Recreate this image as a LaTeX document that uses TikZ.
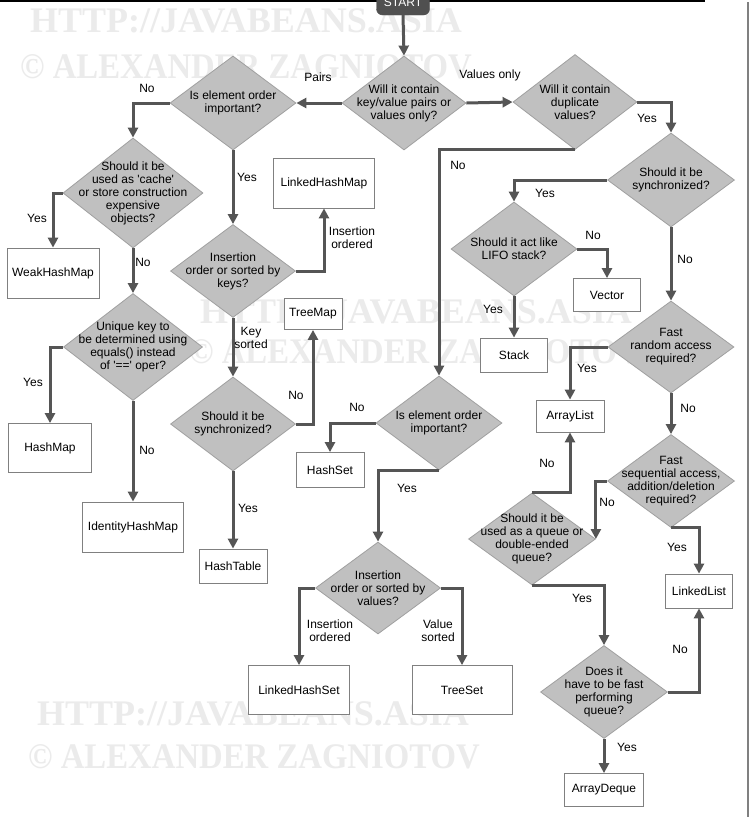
\documentclass[tikz,border=0pt]{standalone}
\usepackage{fontspec}
\newfontfamily\lsans{Liberation Sans}
\newfontfamily\wmfont{Liberation Serif}
\usetikzlibrary{arrows.meta,shapes.geometric}
\definecolor{dfill}{HTML}{C0C0C0}
\definecolor{dline}{HTML}{A0A0A0}
\definecolor{conn}{HTML}{555555}
\definecolor{bline}{HTML}{808080}
\definecolor{wmcol}{HTML}{EBEBEB}
\definecolor{startfill}{HTML}{505050}
\tikzset{
  txtfont/.style={font=\lsans\fontsize{12}{13}\selectfont},
  dia/.style={diamond, draw=dline, fill=dfill, line width=0.8pt, inner sep=0pt},
  dtext/.style={txtfont, align=center, inner sep=0pt},
  box/.style={draw=bline, fill=white, line width=0.8pt, txtfont, inner sep=0pt},
  con/.style={draw=conn, line width=3pt, -{Triangle[width=10pt,length=10pt]}},
  lbl/.style={txtfont, align=center, inner sep=0pt},
  wmark/.style={font=\wmfont\bfseries\fontsize{36}{36}\selectfont, text=wmcol, inner sep=0pt},
  startbox/.style={rounded corners=6pt, fill=startfill, draw=startfill, text=white, txtfont, inner sep=0pt, minimum width=53pt, minimum height=26pt}
}
\newcommand{\dnode}[6]{%
  \node[dia, minimum width=#4pt, minimum height=#5pt] (#1) at (#2,#3) {};
  \node[dtext] (#1t) at (#1.center) {#6};}
\begin{document}
\begin{tikzpicture}[x=1pt,y=-1pt]
\useasboundingbox (0,0) rectangle (750,817);
\clip (0,0) rectangle (750,817);
\fill[white] (0,0) rectangle (750,817);
% watermarks
\node[wmark] (wm1) at (246,21) {HTTP://JAVABEANS.ASIA};
\node[wmark] (wm2) at (246,67) {\scalebox{0.91}[1]{\copyright\ ALEXANDER ZAGNIOTOV}};
\node[wmark] (wm3) at (416,312) {HTTP://JAVABEANS.ASIA};
\node[wmark] (wm4) at (415,352) {\scalebox{0.91}[1]{\copyright\ ALEXANDER ZAGNIOTOV}};
\node[wmark] (wm5) at (253,714) {HTTP://JAVABEANS.ASIA};
\node[wmark] (wm6) at (254,757) {\scalebox{0.91}[1]{\copyright\ ALEXANDER ZAGNIOTOV}};
% frame lines
\coordinate (tl0) at (0,1);
\coordinate (tl1) at (705,1);
\draw[line width=2pt, black] (tl0) -- (tl1);
\coordinate (rl0) at (748,2);
\coordinate (rl1) at (748,817);
\draw[line width=1.5pt, gray] (rl0) -- (rl1);
% start
\node[startbox] (start) at (403,2) {START};
% diamonds
\dnode{d1}{404}{103}{124}{94}{Will it contain\\key/value pairs or\\values only?}
\dnode{d2}{233}{103}{126}{94}{Is element order\\important?}
\dnode{d3}{575}{102}{124}{95}{Will it contain\\duplicate\\values?}
\dnode{d4}{133}{193}{140}{110}{Should it be\\used as 'cache'\\or store construction\\expensive\\objects?}
\dnode{d5}{133}{347}{139}{107}{Unique key to\\be determined using\\equals() instead\\of '==' oper?}
\dnode{d6}{233}{271}{125}{93}{Insertion\\order or sorted by\\keys?}
\dnode{d7}{233}{424}{125}{94}{Should it be\\synchronized?}
\dnode{d8}{671}{180}{127}{94}{Should it be\\synchronized?}
\dnode{d9}{514}{249}{126}{94}{Should it act like\\LIFO stack?}
\dnode{d10}{439}{423}{126}{94}{Is element order\\important?}
\dnode{d11}{671}{347}{126}{92}{Fast\\random access\\required?}
\dnode{d12}{671}{481}{127}{93}{Fast\\sequential access,\\addition/deletion\\required?}
\dnode{d13}{532}{539}{127}{92}{Should it be\\used as a queue or\\double-ended\\queue?}
\dnode{d14}{604}{692}{127}{93}{Does it\\have to be fast\\performing\\queue?}
\dnode{d15}{378}{588}{125}{92}{Insertion\\order or sorted by\\values?}
% boxes
\node[box, minimum width=92pt, minimum height=50pt] (weak) at (53,273) {WeakHashMap};
\node[box, minimum width=83pt, minimum height=49pt] (hashmap) at (50,448) {HashMap};
\node[box, minimum width=101pt, minimum height=50pt] (ident) at (133,527) {IdentityHashMap};
\node[box, minimum width=101pt, minimum height=50pt] (lhm) at (324,183) {LinkedHashMap};
\node[box, minimum width=58pt, minimum height=31pt] (treemap) at (313,314) {TreeMap};
\node[box, minimum width=68pt, minimum height=34pt] (hashtable) at (233,566) {HashTable};
\node[box, minimum width=67pt, minimum height=33pt] (vector) at (607,295) {Vector};
\node[box, minimum width=67pt, minimum height=34pt] (stack) at (514,355) {Stack};
\node[box, minimum width=68pt, minimum height=32pt] (arraylist) at (570,416) {ArrayList};
\node[box, minimum width=67pt, minimum height=34pt] (linkedlist) at (699,591) {LinkedList};
\node[box, minimum width=79pt, minimum height=33pt] (arraydeque) at (604,790) {ArrayDeque};
\node[box, minimum width=68pt, minimum height=35pt] (hashset) at (330,470) {HashSet};
\node[box, minimum width=101pt, minimum height=49pt] (lhs) at (299,690) {LinkedHashSet};
\node[box, minimum width=100pt, minimum height=49pt] (treeset) at (462,690) {TreeSet};
% connectors
\draw[con] (start.south) -- (d1.north);
\draw[con] (d1.west) -- (d2.east);
\draw[con] (d1.east) -- (d3.west);
\draw[con] (d2.west) -| (d4.north);
\draw[con] (d4.west) -| (weak.north);
\draw[con] (d4.south) -- (d5.north);
\draw[con] (d5.west) -| (hashmap.north);
\draw[con] (d5.south) -- (ident.north);
\draw[con] (d2.south) -- (d6.north);
\draw[con] (d6.east) -| (lhm.south);
\draw[con] (d6.south) -- (d7.north);
\draw[con] (d7.east) -| (treemap.south);
\draw[con] (d7.south) -- (hashtable.north);
\draw[con] (d3.east) -| (d8.north);
\draw[con] (d3.south) -| (d10.north);
\draw[con] (d8.west) -| (d9.north);
\draw[con] (d9.east) -| (vector.north);
\draw[con] (d9.south) -- (stack.north);
\draw[con] (d8.south) -- (d11.north);
\draw[con] (d11.west) -| (arraylist.north);
\draw[con] (d11.south) -- (d12.north);
\draw[con] (d12.west) -| (d13.east);
\draw[con] (d13.north) -| (arraylist.south);
\draw[con] (d12.south) -| (linkedlist.north);
\draw[con] (d13.south) -| (d14.north);
\draw[con] (d14.east) -| (linkedlist.south);
\draw[con] (d14.south) -- (arraydeque.north);
\draw[con] (d10.west) -| (hashset.north);
\draw[con] (d10.south) -| (d15.north);
\draw[con] (d15.west) -| (lhs.north);
\draw[con] (d15.east) -| (treeset.north);
% labels
\node[lbl] (l1) at (318,77) {Pairs};
\node[lbl] (l2) at (490,75) {Values only};
\node[lbl] (l3) at (147,88) {No};
\node[lbl] (l4) at (247,177) {Yes};
\node[lbl] (l5) at (37,218) {Yes};
\node[lbl] (l6) at (143,262) {No};
\node[lbl] (l7) at (33,382) {Yes};
\node[lbl] (l8) at (147,450) {No};
\node[lbl] (l9) at (352,238) {Insertion\\ordered};
\node[lbl] (l10) at (251,338) {Key\\sorted};
\node[lbl] (l11) at (296,395) {No};
\node[lbl] (l12) at (248,508) {Yes};
\node[lbl] (l13) at (647,118) {Yes};
\node[lbl] (l14) at (458,165) {No};
\node[lbl] (l15) at (545,193) {Yes};
\node[lbl] (l16) at (593,235) {No};
\node[lbl] (l17) at (493,309) {Yes};
\node[lbl] (l18) at (685,259) {No};
\node[lbl] (l19) at (587,368) {Yes};
\node[lbl] (l20) at (688,408) {No};
\node[lbl] (l21) at (607,502) {No};
\node[lbl] (l22) at (547,463) {No};
\node[lbl] (l23) at (677,547) {Yes};
\node[lbl] (l24) at (582,598) {Yes};
\node[lbl] (l25) at (680,649) {No};
\node[lbl] (l26) at (627,747) {Yes};
\node[lbl] (l27) at (357,407) {No};
\node[lbl] (l28) at (407,488) {Yes};
\node[lbl] (l29) at (330,631) {Insertion\\ordered};
\node[lbl] (l30) at (438,631) {Value\\sorted};
\end{tikzpicture}
\end{document}
